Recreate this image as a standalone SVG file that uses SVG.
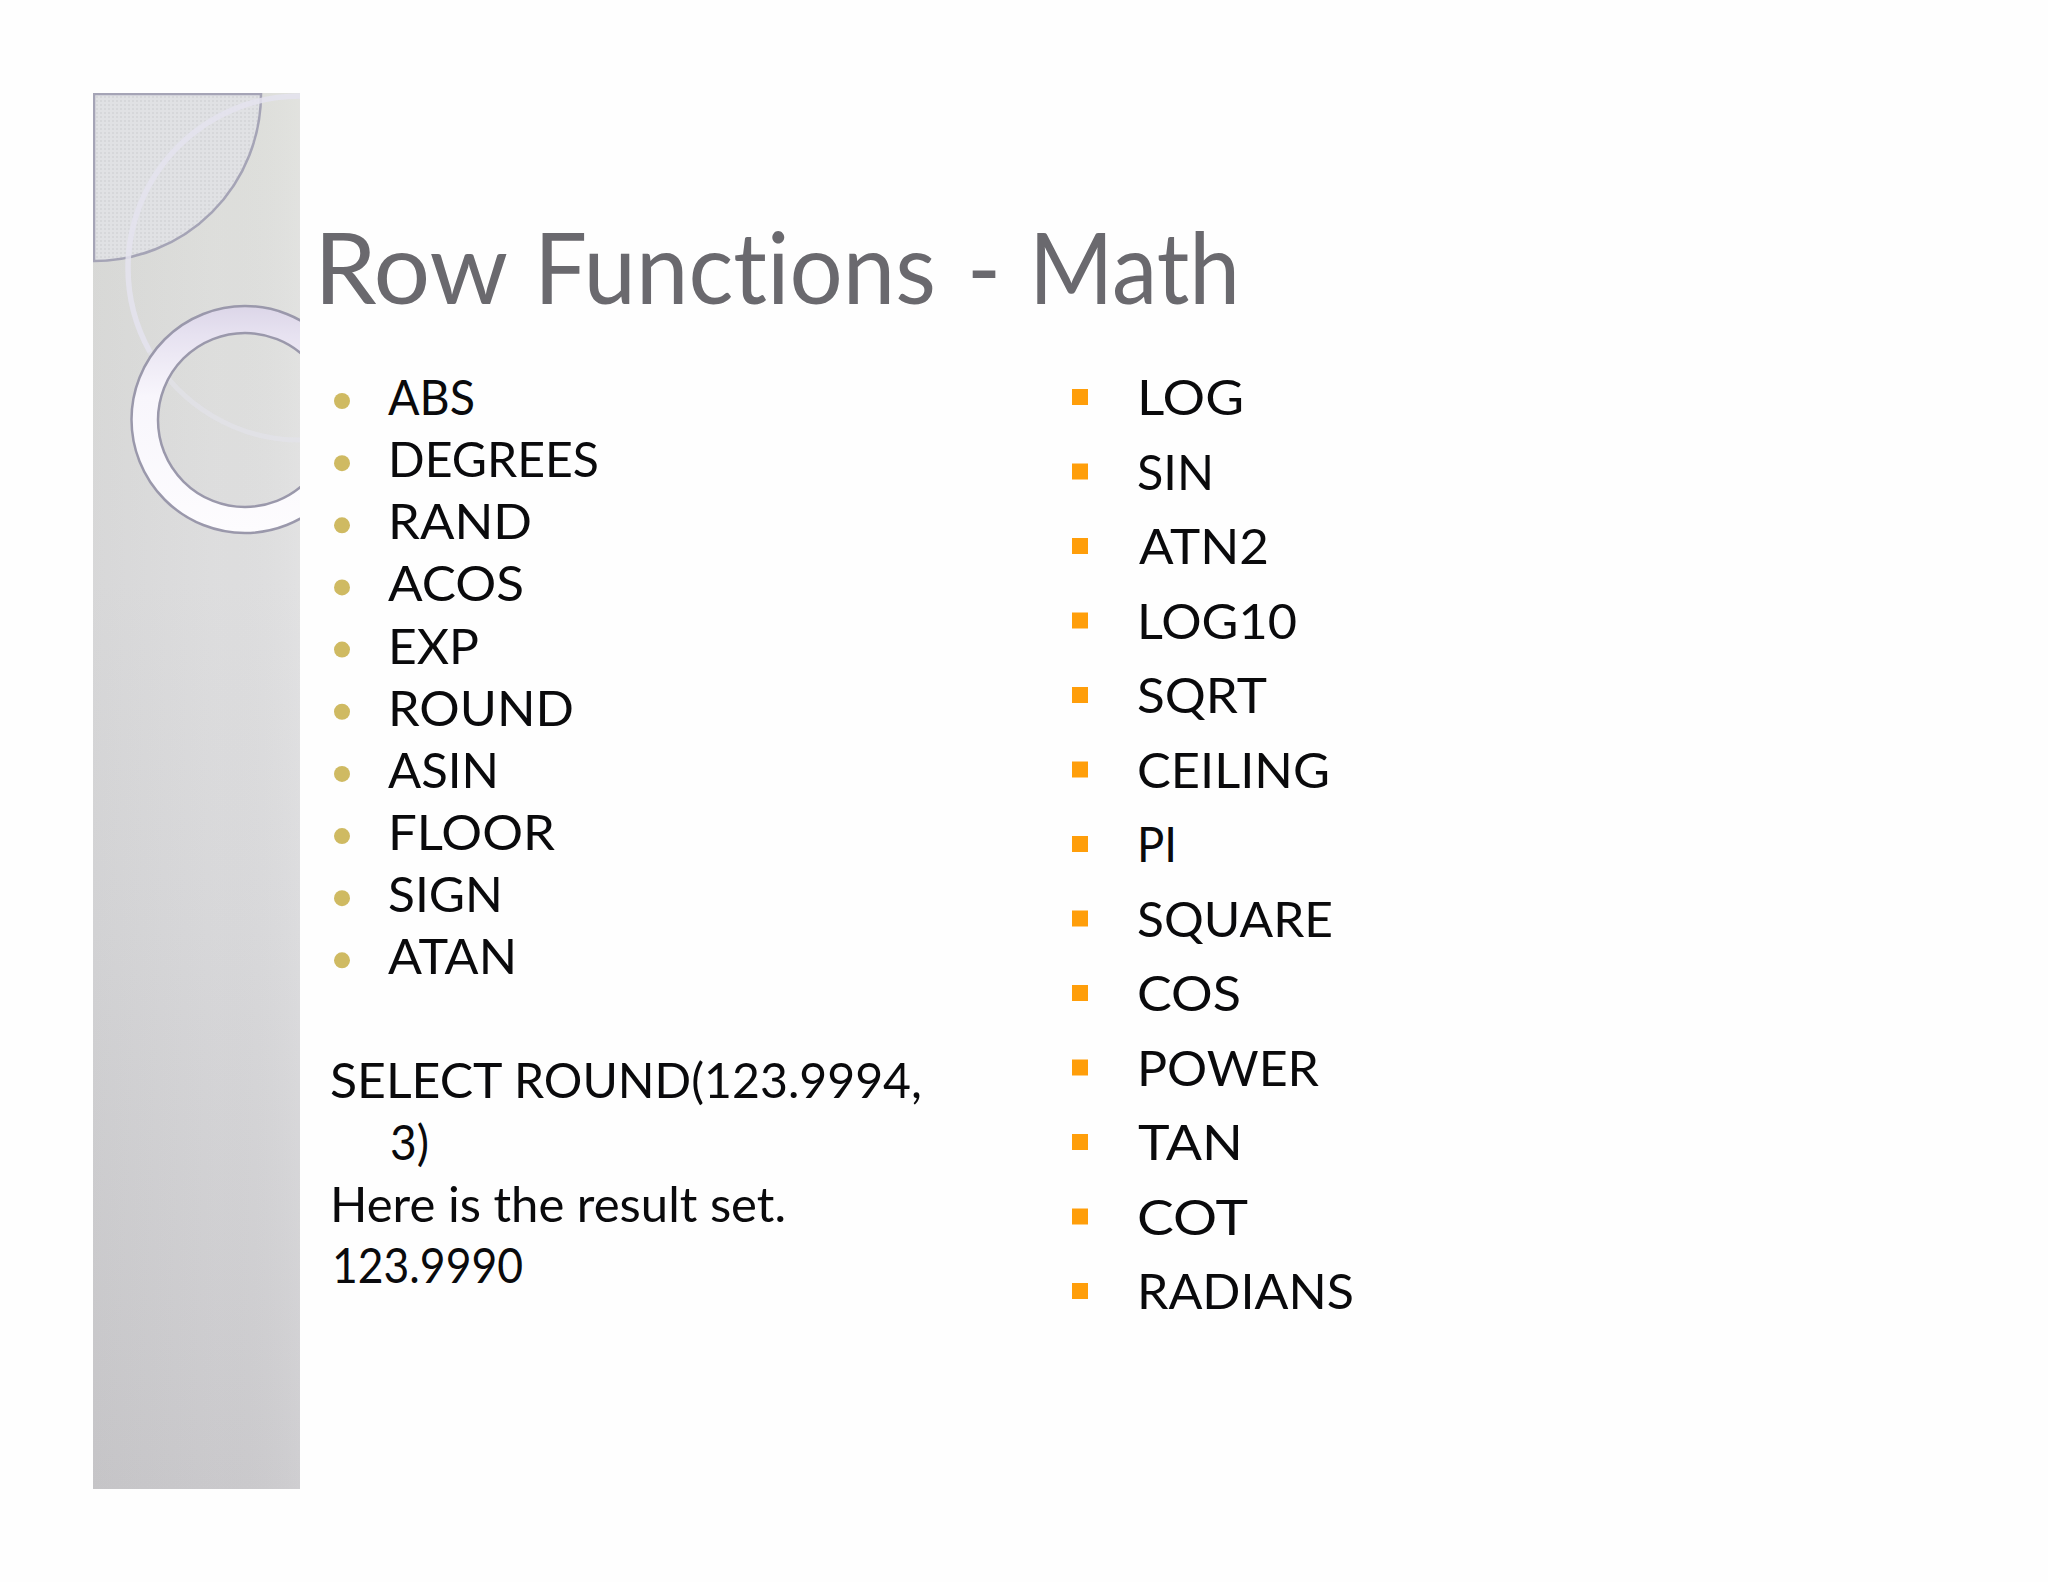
<svg xmlns="http://www.w3.org/2000/svg" width="2048" height="1582" viewBox="0 0 2048 1582">
<style>
text{font-family:"Lato","Noto Sans","Liberation Sans",sans-serif;font-size:49px;fill:#0a0a0c;font-variant-ligatures:none}
.title{font-size:98px;fill:#6a696e}
.dot{fill:#cfba62}
.sq{fill:#ff9e0a}
</style>
<defs>
<linearGradient id="bgv" x1="0" y1="0" x2="0" y2="1"><stop offset="0" stop-color="#dfe0dc"/><stop offset=".35" stop-color="#dfdfe0"/><stop offset=".6" stop-color="#d9d9db"/><stop offset="1" stop-color="#cbcacd"/></linearGradient>
<linearGradient id="bgh" x1="0" y1="0" x2="1" y2="0"><stop offset="0" stop-color="#8a8a8a" stop-opacity=".09"/><stop offset=".6" stop-color="#8a8a8a" stop-opacity=".02"/><stop offset="1" stop-color="#fff" stop-opacity=".08"/></linearGradient>
<linearGradient id="ring" x1="0" y1="0" x2="0" y2="1"><stop offset="0" stop-color="#dcd6e8"/><stop offset=".12" stop-color="#e6e1f0"/><stop offset=".4" stop-color="#f8f6fc"/><stop offset="1" stop-color="#fdfcfe"/></linearGradient>
<pattern id="mesh" width="4" height="4" patternUnits="userSpaceOnUse"><rect width="4" height="4" fill="#e0e1e4"/><rect width="2" height="2" fill="#d6d7da"/></pattern>
<clipPath id="panel"><rect x="93" y="93" width="207" height="1396"/></clipPath>
</defs>
<rect width="2048" height="1582" fill="#fefefe"/>
<g id="panel-art" clip-path="url(#panel)">
<rect x="93" y="93" width="207" height="1396" fill="url(#bgv)"/>
<rect x="93" y="93" width="207" height="1396" fill="url(#bgh)"/>
<path d="M94 94H261A167 167 0 0 1 94 261Z" fill="url(#mesh)" stroke="#a5a4b6" stroke-width="2.5"/>
<path d="M300 96A172 172 0 0 0 128 268A172 172 0 0 0 150 352" fill="none" stroke="#e4e3ef" stroke-width="5.500" stroke-opacity=".85"/>
<path d="M150 352A172 172 0 0 0 300 440" fill="none" stroke="#e4e3ec" stroke-width="5" stroke-opacity=".55"/>
<path fill-rule="evenodd" d="M131.500 419.500a113.500 113.500 0 1 0 227 0a113.500 113.500 0 1 0 -227 0ZM158 420a87 87 0 1 0 174 0a87 87 0 1 0 -174 0Z" fill="url(#ring)"/>
<circle cx="245" cy="419.500" r="113.500" fill="none" stroke="#9a98ab" stroke-width="2.500"/>
<circle cx="245" cy="420" r="87" fill="none" stroke="#9a98ab" stroke-width="2.500"/>
</g>
<g id="title"><text class="title" y="304"><tspan x="314" textLength="192" lengthAdjust="spacingAndGlyphs">Row</tspan> <tspan x="534" textLength="402" lengthAdjust="spacingAndGlyphs">Functions</tspan> <tspan x="967" textLength="34" lengthAdjust="spacingAndGlyphs">-</tspan> <tspan x="1029" textLength="211" lengthAdjust="spacingAndGlyphs">Math</tspan></text></g>
<g id="left-list">
<circle class="dot" cx="342" cy="401" r="8"/><text x="388" y="415" textLength="87" lengthAdjust="spacingAndGlyphs">ABS</text>
<circle class="dot" cx="342" cy="463.150" r="8"/><text x="388" y="477.150" textLength="211" lengthAdjust="spacingAndGlyphs">DEGREES</text>
<circle class="dot" cx="342" cy="525.300" r="8"/><text x="388" y="539.300" textLength="144" lengthAdjust="spacingAndGlyphs">RAND</text>
<circle class="dot" cx="342" cy="587.450" r="8"/><text x="388" y="601.450" textLength="136" lengthAdjust="spacingAndGlyphs">ACOS</text>
<circle class="dot" cx="342" cy="649.600" r="8"/><text x="388" y="663.600" textLength="91" lengthAdjust="spacingAndGlyphs">EXP</text>
<circle class="dot" cx="342" cy="711.750" r="8"/><text x="388" y="725.750" textLength="186" lengthAdjust="spacingAndGlyphs">ROUND</text>
<circle class="dot" cx="342" cy="773.900" r="8"/><text x="388" y="787.900" textLength="111" lengthAdjust="spacingAndGlyphs">ASIN</text>
<circle class="dot" cx="342" cy="836.050" r="8"/><text x="388" y="850.050" textLength="167" lengthAdjust="spacingAndGlyphs">FLOOR</text>
<circle class="dot" cx="342" cy="898.200" r="8"/><text x="388" y="912.200" textLength="115" lengthAdjust="spacingAndGlyphs">SIGN</text>
<circle class="dot" cx="342" cy="960.350" r="8"/><text x="388" y="974.350" textLength="129" lengthAdjust="spacingAndGlyphs">ATAN</text>
</g>
<g id="example">
<text y="1098"><tspan x="330" textLength="171" lengthAdjust="spacingAndGlyphs">SELECT</tspan> <tspan x="514" textLength="408" lengthAdjust="spacingAndGlyphs">ROUND(123.9994,</tspan></text>
<text x="390" y="1160" textLength="39" lengthAdjust="spacingAndGlyphs">3)</text>
<text x="330" y="1222" textLength="456" lengthAdjust="spacingAndGlyphs">Here is the result set.</text>
<text x="332" y="1283" textLength="191" lengthAdjust="spacingAndGlyphs">123.9990</text>
</g>
<g id="right-list">
<rect class="sq" x="1072" y="389" width="16" height="16"/><text x="1137" y="415" textLength="107" lengthAdjust="spacingAndGlyphs">LOG</text>
<rect class="sq" x="1072" y="463.500" width="16" height="16"/><text x="1137" y="489.500" textLength="77" lengthAdjust="spacingAndGlyphs">SIN</text>
<rect class="sq" x="1072" y="538" width="16" height="16"/><text x="1139" y="564" textLength="130" lengthAdjust="spacingAndGlyphs">ATN2</text>
<rect class="sq" x="1072" y="612.500" width="16" height="16"/><text x="1137" y="638.500" textLength="160" lengthAdjust="spacingAndGlyphs">LOG10</text>
<rect class="sq" x="1072" y="687" width="16" height="16"/><text x="1137" y="713" textLength="130" lengthAdjust="spacingAndGlyphs">SQRT</text>
<rect class="sq" x="1072" y="761.500" width="16" height="16"/><text x="1137" y="787.500" textLength="193" lengthAdjust="spacingAndGlyphs">CEILING</text>
<rect class="sq" x="1072" y="836" width="16" height="16"/><text x="1137" y="862" textLength="40" lengthAdjust="spacingAndGlyphs">PI</text>
<rect class="sq" x="1072" y="910.500" width="16" height="16"/><text x="1137" y="936.500" textLength="196" lengthAdjust="spacingAndGlyphs">SQUARE</text>
<rect class="sq" x="1072" y="985" width="16" height="16"/><text x="1137" y="1011" textLength="104" lengthAdjust="spacingAndGlyphs">COS</text>
<rect class="sq" x="1072" y="1059.500" width="16" height="16"/><text x="1137" y="1085.500" textLength="182" lengthAdjust="spacingAndGlyphs">POWER</text>
<rect class="sq" x="1072" y="1134" width="16" height="16"/><text x="1138" y="1160" textLength="105" lengthAdjust="spacingAndGlyphs">TAN</text>
<rect class="sq" x="1072" y="1208.500" width="16" height="16"/><text x="1137" y="1234.500" textLength="111" lengthAdjust="spacingAndGlyphs">COT</text>
<rect class="sq" x="1072" y="1283" width="16" height="16"/><text x="1137" y="1309" textLength="217" lengthAdjust="spacingAndGlyphs">RADIANS</text>
</g>
</svg>
